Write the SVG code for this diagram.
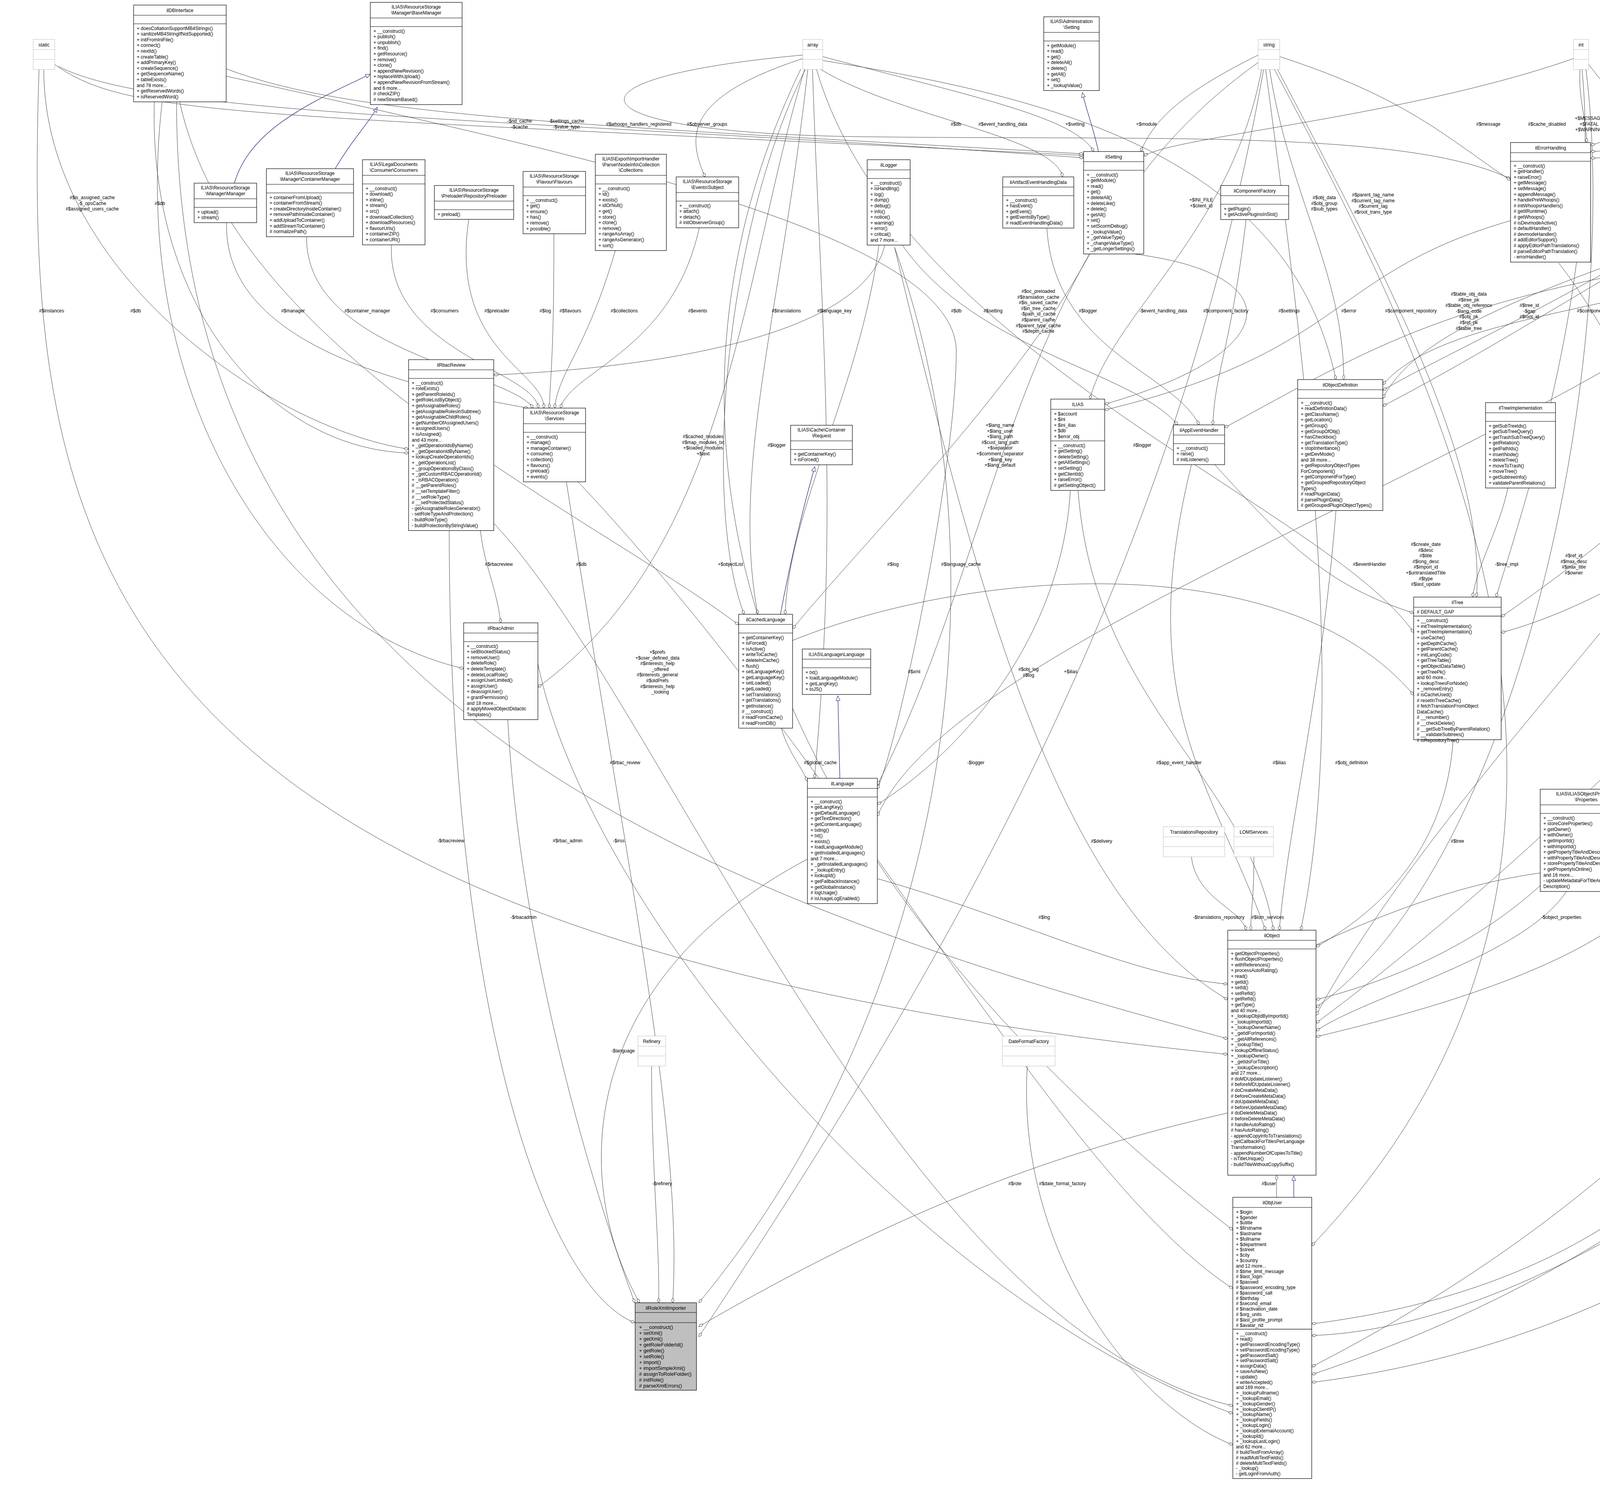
<svg xmlns="http://www.w3.org/2000/svg" width="5718" height="3836" viewBox="0 0 5718 3836">
<style>
text{font-family:"Liberation Sans",Arial,sans-serif;font-size:12px;fill:#000}
.b{fill:#fff;stroke:#000;stroke-width:1.2}
.g{fill:#fff;stroke:#bfbfbf;stroke-width:1}
.gs{stroke:#bfbfbf;stroke-width:1}
.s{stroke:#000;stroke-width:1.2}
.t{text-anchor:middle}
.l{text-anchor:middle}
.e{fill:none;stroke:#404040;stroke-width:1;marker-end:url(#dia)}
.i{fill:none;stroke:#191970;stroke-width:1.2;marker-end:url(#tri)}
.imp{fill:#bfbfbf;stroke:#000;stroke-width:1.2}
.imp2 text{font-size:13px}
</style>
<defs>
<marker id="dia" markerUnits="userSpaceOnUse" markerWidth="14" markerHeight="10" refX="13" refY="5" orient="auto"><path d="M1,5 L7,1.5 L13,5 L7,8.5 Z" fill="#fff" stroke="#404040"/></marker>
<marker id="tri" markerUnits="userSpaceOnUse" markerWidth="14" markerHeight="12" refX="13" refY="6" orient="auto"><path d="M1,1 L13,6 L1,11 Z" fill="#fff" stroke="#191970"/></marker>
</defs>
<rect width="5718" height="3836" fill="#fff"/>
<g id="connectors">
<path class="i" d="M600,469 C640,330 800,260 948,190"/>
<path class="i" d="M858,432 C900,360 940,320 966,275"/>
<path class="i" d="M2812,388 C2800,330 2780,280 2771,237"/>
<path class="i" d="M1998,1573 C2030,1400 2070,1250 2086,1195"/>
<path class="i" d="M2150,1993 C2148,1900 2146,1820 2145,1782"/>
<path class="i" d="M3312,3066 L3312,3011"/>
<path class="e" d="M112,177 C112,700 700,1100 1046,1150"/>
<path class="e" d="M100,177 C60,1400 200,2400 3143,2700"/>
<path class="e" d="M140,165 C330,300 600,290 2774,398"/>
<path class="e" d="M150,170 C400,300 1300,300 2774,404"/>
<path class="e" d="M395,261 C380,800 700,1150 1046,1160"/>
<path class="e" d="M415,261 C330,1000 700,1600 1187,1712"/>
<path class="e" d="M579,176 C900,300 1500,320 2774,394"/>
<path class="e" d="M452,261 C450,1800 1800,2300 3143,2660"/>
<path class="e" d="M580,570 C570,900 1100,1000 1352,1045"/>
<path class="e" d="M785,606 C780,900 1300,950 1365,1045"/>
<path class="e" d="M1002,627 C990,900 1370,950 1378,1045"/>
<path class="e" d="M1200,562 C1150,900 1395,950 1392,1045"/>
<path class="e" d="M1418,599 C1418,900 1410,950 1406,1045"/>
<path class="e" d="M1575,642 C1500,900 1430,950 1420,1045"/>
<path class="e" d="M1790,584 C1720,900 1460,950 1435,1045"/>
<path class="e" d="M2265,628 C2200,900 1500,950 1264,960"/>
<path class="e" d="M2055,141 C1400,200 1450,340 2200,350 S3600,330 3867,458"/>
<path class="e" d="M2055,150 C1750,250 1760,350 1805,453"/>
<path class="e" d="M2068,177 C2000,800 1870,1200 1940,1573"/>
<path class="e" d="M2062,177 C1850,600 1800,1300 1905,1573"/>
<path class="e" d="M2080,177 C2100,800 2150,1300 2085,1993"/>
<path class="e" d="M2100,177 C2300,300 2700,350 2720,453"/>
<path class="e" d="M2106,145 C2500,250 2750,300 2800,388"/>
<path class="e" d="M2106,155 C2700,250 3300,400 3420,972"/>
<path class="e" d="M2090,177 C2300,900 3400,1300 3619,1620"/>
<path class="e" d="M2060,177 C1900,700 1870,1400 1377,1760"/>
<path class="e" d="M2050,177 C1700,900 1683,2000 3156,3150"/>
<path class="e" d="M3221,141 C3000,250 2950,320 2920,388"/>
<path class="e" d="M3230,177 C3150,600 2850,800 2790,1022"/>
<path class="e" d="M3250,177 C3300,500 3440,700 3440,972"/>
<path class="e" d="M3276,145 C3600,250 3700,350 3867,462"/>
<path class="e" d="M3270,177 C3600,800 3800,1200 3780,1529"/>
<path class="e" d="M3240,177 C3350,1000 3450,1800 3330,2382"/>
<path class="e" d="M3262,177 C3700,1000 4300,2200 3358,3190"/>
<path class="e" d="M3221,160 C2600,600 2560,1400 2246,2010"/>
<path class="e" d="M3235,177 C3000,1500 2400,2500 1789,3423"/>
<path class="e" d="M4045,177 C4040,250 4060,300 4062,365"/>
<path class="e" d="M4028,150 C3600,300 3000,350 2928,400"/>
<path class="e" d="M4050,177 C4100,700 3900,1300 3830,1529"/>
<path class="e" d="M4060,177 C4150,900 3900,2200 3369,2580"/>
<path class="e" d="M4067,165 C4400,600 5200,1300 5100,2000 S4000,3400 3358,3420"/>
<path class="e" d="M4370,177 C4250,300 4150,350 4072,372"/>
<path class="e" d="M4823,155 C4500,300 4300,380 4072,388"/>
<path class="e" d="M4835,177 C4800,900 4100,1400 3843,1580"/>
<path class="e" d="M4845,177 C4900,900 2500,1500 2246,2090"/>
<path class="e" d="M4858,177 C4950,900 3800,1800 3369,2600"/>
<path class="e" d="M4871,170 C5300,800 5300,2500 3358,3500"/>
<path class="e" d="M4823,200 C4400,600 3700,900 3540,1000"/>
<path class="e" d="M5121,160 C4700,300 4300,400 4072,405"/>
<path class="e" d="M5125,177 C5000,350 4900,550 4774,680"/>
<path class="e" d="M5176,145 C5500,300 5600,500 5598,702"/>
<path class="e" d="M5135,177 C4700,600 3700,700 3540,1020"/>
<path class="e" d="M5140,177 C4400,500 4000,800 3540,1040"/>
<path class="e" d="M5150,177 C5100,900 4300,1500 3843,1620"/>
<path class="e" d="M5160,177 C5250,900 4200,2000 3369,2620"/>
<path class="e" d="M5170,177 C5500,900 5500,2800 3358,3520"/>
<path class="e" d="M5600,891 C5600,2500 4500,3400 3358,3540"/>
<path class="e" d="M2680,584 C2700,900 3000,950 3070,1088"/>
<path class="e" d="M3190,562 C3150,900 3110,950 3105,1088"/>
<path class="e" d="M2900,650 C3300,700 3300,900 2828,1035"/>
<path class="e" d="M3867,565 C3400,700 3450,900 2828,1050"/>
<path class="e" d="M4545,643 C4200,800 3700,800 3540,985"/>
<path class="e" d="M4540,640 C3700,750 3500,900 3135,1095"/>
<path class="e" d="M2310,628 C2500,900 2900,950 3015,1088"/>
<path class="e" d="M2250,628 C2200,1000 2020,1300 2010,1573"/>
<path class="e" d="M2790,650 C2600,1000 2200,1400 2029,1610"/>
<path class="e" d="M579,195 C1500,400 2448,600 2448,900 S2300,1900 2246,2020"/>
<path class="e" d="M460,261 C600,900 1488,1300 1891,1600"/>
<path class="e" d="M2029,1640 C2500,1450 3300,1400 3619,1780"/>
<path class="e" d="M1450,1234 C1600,2200 1750,2900 1722,3336"/>
<path class="e" d="M1150,1359 C1150,2600 1400,3300 1625,3387"/>
<path class="e" d="M1230,1359 C1240,1450 1270,1500 1282,1595"/>
<path class="e" d="M1264,1340 C1700,1800 2300,3400 3156,3600"/>
<path class="e" d="M1300,1843 C1330,2400 1500,3000 1625,3336"/>
<path class="e" d="M1377,1700 C1500,2300 2300,3300 3156,3620"/>
<path class="e" d="M2000,1865 C2020,1930 2050,1960 2067,2000"/>
<path class="e" d="M2067,2200 C1500,2500 1450,3000 1637,3336"/>
<path class="e" d="M2246,2250 C2600,2350 2900,2500 3143,2520"/>
<path class="e" d="M1668,2729 C1668,3000 1690,3200 1686,3336"/>
<path class="e" d="M2290,633 C2600,1500 2400,2600 1789,3336"/>
<path class="e" d="M2290,633 C2500,1500 2700,2300 3143,2560"/>
<path class="e" d="M2630,2729 C2600,3200 2900,3600 3156,3700"/>
<path class="e" d="M3143,2850 C2700,2950 2300,3100 1789,3397"/>
<path class="e" d="M2760,1257 C2800,1800 3200,2000 3260,2382"/>
<path class="e" d="M2740,1257 C2720,1600 2500,1900 2246,2060"/>
<path class="e" d="M3050,1190 C2900,1800 3100,2000 3240,2382"/>
<path class="e" d="M3110,1190 C3300,1400 3400,1500 3619,1570"/>
<path class="e" d="M3420,1308 C3380,1800 3300,2100 3275,2382"/>
<path class="e" d="M3720,1894 C3700,2200 3500,2350 3369,2425"/>
<path class="e" d="M3860,1250 C3840,1350 3780,1450 3770,1529"/>
<path class="e" d="M3050,2193 C3060,2300 3180,2330 3190,2382"/>
<path class="e" d="M3210,2193 C3210,2300 3202,2330 3202,2382"/>
<path class="e" d="M4010,2283 C3900,2450 3500,2550 3369,2640"/>
<path class="e" d="M4270,2210 C4200,2450 3600,2600 3369,2655"/>
<path class="e" d="M3268,3066 L3268,3010"/>
<path class="e" d="M1480,1234 C2200,2000 2700,3000 3156,3300"/>
<path class="e" d="M3990,673 C4471,1300 4400,2300 3369,2560"/>
<path class="e" d="M3369,2420 C4900,1700 4900,3200 3358,3390"/>
</g>
<g id="labels">
<text class="l" x="236" y="510">#$is_assigned_cache<tspan x="236" dy="14.6">-$_opsCache</tspan><tspan x="236" dy="14.6">#$assigned_users_cache</tspan></text>
<text class="l" x="409" y="525">#$db</text>
<text class="l" x="132" y="800">#$instances</text>
<text class="l" x="347" y="800">#$db</text>
<text class="l" x="750" y="800">#$manager</text>
<text class="l" x="940" y="800">#$container_manager</text>
<text class="l" x="1138" y="800">#$consumers</text>
<text class="l" x="1272" y="800">#$preloader</text>
<text class="l" x="1396" y="800">#$log</text>
<text class="l" x="1460" y="800">#$flavours</text>
<text class="l" x="1598" y="800">#$collections</text>
<text class="l" x="1786" y="800">#$events</text>
<text class="l" x="2013" y="800">#$translations</text>
<text class="l" x="2136" y="800">#$language_key</text>
<text class="l" x="2448" y="800">#$db</text>
<text class="l" x="2542" y="800">#$setting</text>
<text class="l" x="2658" y="750">#$oc_preloaded<tspan x="2658" dy="14.6">#$translation_cache</tspan><tspan x="2658" dy="14.6">#$is_saved_cache</tspan><tspan x="2658" dy="14.6">#$in_tree_cache</tspan><tspan x="2658" dy="14.6">-$path_id_cache</tspan><tspan x="2658" dy="14.6">#$parent_cache</tspan><tspan x="2658" dy="14.6">#$parent_type_cache</tspan><tspan x="2658" dy="14.6">#$depth_cache</tspan></text>
<text class="l" x="2785" y="800">#$logger</text>
<text class="l" x="1330" y="314">-$rid_cache<tspan x="1330" dy="14.6">-$cache</tspan></text>
<text class="l" x="1450" y="314">-$settings_cache<tspan x="1450" dy="14.6">-$value_type</tspan></text>
<text class="l" x="1635" y="322">#$whoops_handlers_registered</text>
<text class="l" x="1810" y="322">#$observer_groups</text>
<text class="l" x="2447" y="322">#$db</text>
<text class="l" x="2567" y="322">#$event_handling_data</text>
<text class="l" x="2752" y="322">+$setting</text>
<text class="l" x="2935" y="322">+$module</text>
<text class="l" x="3810" y="322">#$message</text>
<text class="l" x="3960" y="322">#$cache_disabled</text>
<text class="l" x="4068" y="307">+$MESSAGE<tspan x="4068" dy="14.6">+$FATAL</tspan><tspan x="4068" dy="14.6">+$WARNING</tspan></text>
<text class="l" x="4200" y="322">#$whoops</text>
<text class="l" x="4440" y="322">#$DEBUG_ENV</text>
<text class="l" x="4840" y="314">-SENSTIVE_PARAMETER<tspan x="4840" dy="14.6">_NAMES</tspan></text>
<text class="l" x="5122" y="322">+PLUGIN_BASE_PATH</text>
<text class="l" x="5543" y="322">+TABLE_NAME</text>
<text class="l" x="3075" y="516">+$INI_FILE<tspan x="3075" dy="14.6">+$client_id</tspan></text>
<text class="l" x="3390" y="510">#$obj_data<tspan x="3390" dy="14.6">#$obj_group</tspan><tspan x="3390" dy="14.6">#$sub_types</tspan></text>
<text class="l" x="3515" y="503">#$parent_tag_name<tspan x="3515" dy="14.6">#$current_tag_name</tspan><tspan x="3515" dy="14.6">#$current_tag</tspan><tspan x="3515" dy="14.6">#$root_trans_type</tspan></text>
<text class="l" x="4205" y="488">+FILTER_NOT_INTERNAL<tspan x="4205" dy="14.6">+FILTER_ALL_GLOBAL</tspan><tspan x="4205" dy="14.6">+FILTER_ALL</tspan><tspan x="4205" dy="14.6">+FILTER_INTERNAL</tspan><tspan x="4205" dy="14.6">+FILTER_TEMPLATES</tspan><tspan x="4205" dy="14.6">+FILTER_ALL_LOCAL</tspan></text>
<text class="l" x="4440" y="510">+MODE_REPOSITORY<tspan x="4440" dy="14.6">+MODE_ADMINISTRATION</tspan><tspan x="4440" dy="14.6">+MODE_WORKSPACE</tspan></text>
<text class="l" x="2978" y="800">-$event_handling_data</text>
<text class="l" x="3138" y="800">#$component_factory</text>
<text class="l" x="3300" y="800">#$settings</text>
<text class="l" x="3453" y="800">#$error</text>
<text class="l" x="3612" y="800">#$component_repository</text>
<text class="l" x="3760" y="757">#$table_obj_data<tspan x="3760" dy="14.6">#$tree_pk</tspan><tspan x="3760" dy="14.6">#$table_obj_reference</tspan><tspan x="3760" dy="14.6">-$lang_code</tspan><tspan x="3760" dy="14.6">#$obj_pk</tspan><tspan x="3760" dy="14.6">#$ref_pk</tspan><tspan x="3760" dy="14.6">#$table_tree</tspan></text>
<text class="l" x="3915" y="786">#$tree_id<tspan x="3915" dy="14.6">-$gap</tspan><tspan x="3915" dy="14.6">#$root_id</tspan></text>
<text class="l" x="4103" y="800">#$component_repository</text>
<text class="l" x="4397" y="800">#$loaded</text>
<text class="l" x="4705" y="800">#$use_cache</text>
<text class="l" x="5067" y="721">+TREE_TYPE_NESTED_SET<tspan x="5067" dy="14.6">+RELATION_PARENT</tspan><tspan x="5067" dy="14.6">+RELATION_CHILD</tspan><tspan x="5067" dy="14.6">+TREE_TYPE_MATERIALIZED</tspan><tspan x="5067" dy="14.6">_PATH</tspan><tspan x="5067" dy="14.6">#DEFAULT_LANGUAGE</tspan><tspan x="5067" dy="14.6">+RELATION_SIBLING</tspan><tspan x="5067" dy="14.6">+POS_FIRST_NODE</tspan><tspan x="5067" dy="14.6">+RELATION_EQUALS</tspan><tspan x="5067" dy="14.6">+POS_LAST_NODE</tspan><tspan x="5067" dy="14.6">+RELATION_NONE</tspan><tspan x="5067" dy="14.6">...</tspan></text>
<text class="l" x="1800" y="1122">#$cached_modules<tspan x="1800" dy="14.6">#$map_modules_txt</tspan><tspan x="1800" dy="14.6">+$loaded_modules</tspan><tspan x="1800" dy="14.6">+$text</tspan></text>
<text class="l" x="1988" y="1144">#$logger</text>
<text class="l" x="1277" y="1449">#$rbacreview</text>
<text class="l" x="1488" y="1449">#$db</text>
<text class="l" x="1870" y="1449">+$objectList</text>
<text class="l" x="2286" y="1449">#$log</text>
<text class="l" x="2460" y="1449">#$language_cache</text>
<text class="l" x="1683" y="1674">+$prefs<tspan x="1683" dy="14.6">+$user_defined_data</tspan><tspan x="1683" dy="14.6">#$interests_help</tspan><tspan x="1690" dy="14.6">_offered</tspan><tspan x="1683" dy="14.6">#$interests_general</tspan><tspan x="1683" dy="14.6">#$oldPrefs</tspan><tspan x="1683" dy="14.6">#$interests_help</tspan><tspan x="1690" dy="14.6">_looking</tspan></text>
<text class="l" x="2340" y="1724">#$xml</text>
<text class="l" x="1600" y="1957">#$rbac_review</text>
<text class="l" x="2100" y="1957">#$global_cache</text>
<text class="l" x="1154" y="2157">-$rbacreview</text>
<text class="l" x="1453" y="2157">#$rbac_admin</text>
<text class="l" x="1584" y="2157">-$irss</text>
<text class="l" x="1340" y="2353">-$rbacadmin</text>
<text class="l" x="2560" y="1093">+$lang_name<tspan x="2560" dy="14.6">+$lang_user</tspan><tspan x="2560" dy="14.6">+$lang_path</tspan><tspan x="2560" dy="14.6">#$cust_lang_path</tspan><tspan x="2560" dy="14.6">+$separator</tspan><tspan x="2560" dy="14.6">+$comment_separator</tspan><tspan x="2560" dy="14.6">+$lang_key</tspan><tspan x="2560" dy="14.6">+$lang_default</tspan></text>
<text class="l" x="2924" y="1144">#$logger</text>
<text class="l" x="3506" y="1449">#$eventHandler</text>
<text class="l" x="3650" y="1398">#$create_date<tspan x="3650" dy="14.6">#$desc</tspan><tspan x="3650" dy="14.6">#$title</tspan><tspan x="3650" dy="14.6">#$long_desc</tspan><tspan x="3650" dy="14.6">#$import_id</tspan><tspan x="3650" dy="14.6">+$untranslatedTitle</tspan><tspan x="3650" dy="14.6">#$type</tspan><tspan x="3650" dy="14.6">#$last_update</tspan></text>
<text class="l" x="2633" y="1718">#$obj_log<tspan x="2633" dy="14.6">#$log</tspan></text>
<text class="l" x="2741" y="1724">+$ilias</text>
<text class="l" x="2498" y="1957">-$logger</text>
<text class="l" x="3018" y="1957">#$app_event_handler</text>
<text class="l" x="3275" y="1957">#$ilias</text>
<text class="l" x="3460" y="1957">#$obj_definition</text>
<text class="l" x="2820" y="2158">#$delivery</text>
<text class="l" x="3731" y="2158">#$tree</text>
<text class="l" x="2673" y="2353">#$lng</text>
<text class="l" x="3120" y="2353">-$translations_repository</text>
<text class="l" x="3245" y="2353">#$lom_services</text>
<text class="l" x="3857" y="1449">-$tree_impl</text>
<text class="l" x="4029" y="1427">#$ref_id<tspan x="4029" dy="14.6">#$max_desc</tspan><tspan x="4029" dy="14.6">#$max_title</tspan><tspan x="4029" dy="14.6">#$owner</tspan></text>
<text class="l" x="4785" y="1144">#$usage_log_enabled</text>
<text class="l" x="4707" y="1427">#$register<tspan x="4707" dy="14.6">#$call_by_reference</tspan><tspan x="4707" dy="14.6">-$process_auto_rating</tspan><tspan x="4707" dy="14.6">#$add_dots</tspan></text>
<text class="l" x="4988" y="1427">+TABLE_OBJECT_DATA<tspan x="4988" dy="14.6">+LONG_DESC_LENGTH</tspan><tspan x="4988" dy="14.6">+TITLE_LENGTH</tspan><tspan x="4988" dy="14.6">+DESC_LENGTH</tspan></text>
<text class="l" x="4360" y="1652">#$ext_account<tspan x="4360" dy="14.6">+$email</tspan><tspan x="4360" dy="14.6">+$phone_office</tspan><tspan x="4360" dy="14.6">+$institution</tspan><tspan x="4360" dy="14.6">#$first_login</tspan><tspan x="4360" dy="14.6">+$longitude</tspan><tspan x="4360" dy="14.6">+$hobby</tspan><tspan x="4360" dy="14.6">+$zipcode</tspan><tspan x="4360" dy="14.6">#$passwd_type</tspan><tspan x="4360" dy="14.6">+$referral_comment</tspan><tspan x="4360" dy="14.6">...</tspan></text>
<text class="l" x="4471" y="1724">#$error</text>
<text class="l" x="4857" y="1724">#$role_folder</text>
<text class="l" x="5104" y="1688">#$time_limit_owner<tspan x="5104" dy="14.6">+$active</tspan><tspan x="5104" dy="14.6">#$time_limit_from</tspan><tspan x="5104" dy="14.6">#$time_limit_until</tspan><tspan x="5104" dy="14.6">+$login_attempts</tspan><tspan x="5104" dy="14.6">+$last_password_change_ts</tspan></text>
<text class="l" x="3997" y="2353">-$object_properties</text>
<text class="l" x="4218" y="2353">-$properties_aggregator</text>
<text class="l" x="5160" y="2460">#$profile_incomplete<tspan x="5160" dy="14.6">#$password_policy_reset</tspan><tspan x="5160" dy="14.6">#$time_limit_unlimited</tspan><tspan x="5160" dy="14.6">#$is_self_registered</tspan></text>
<text class="l" x="5325" y="2280">+$PASSWD_CRYPTED<tspan x="5325" dy="14.6">+$NO_AVATAR_RID</tspan><tspan x="5325" dy="14.6">+$PASSWD_PLAIN</tspan></text>
<text class="l" x="5580" y="2700">-$cron_delete_user<tspan x="5580" dy="14.6">_reminder_mail</tspan></text>
<text class="l" x="3248" y="3035">#$user</text>
<text class="l" x="1595" y="2695">-$language</text>
<text class="l" x="1695" y="3035">-$refinery</text>
<text class="l" x="2598" y="3035">#$role</text>
<text class="l" x="2720" y="3035">#$date_format_factory</text>
</g>
<g id="static" transform="translate(85,101)"><rect class="g" width="55" height="77"/><line class="gs" x1="0" y1="26" x2="55" y2="26"/><line class="gs" x1="0" y1="51" x2="55" y2="51"/><text class="t" x="27.5" y="17.5">static</text></g>
<g id="array" transform="translate(2055,101)"><rect class="g" width="51" height="77"/><line class="gs" x1="0" y1="26" x2="51" y2="26"/><line class="gs" x1="0" y1="51" x2="51" y2="51"/><text class="t" x="25.5" y="17.5">array</text></g>
<g id="string" transform="translate(3221,101)"><rect class="g" width="55" height="77"/><line class="gs" x1="0" y1="26" x2="55" y2="26"/><line class="gs" x1="0" y1="51" x2="55" y2="51"/><text class="t" x="27.5" y="17.5">string</text></g>
<g id="int" transform="translate(4028,101)"><rect class="g" width="39" height="77"/><line class="gs" x1="0" y1="26" x2="39" y2="26"/><line class="gs" x1="0" y1="51" x2="39" y2="51"/><text class="t" x="19.5" y="17.5">int</text></g>
<g id="RunInterface" transform="translate(4342,101)"><rect class="g" width="99" height="77"/><line class="gs" x1="0" y1="26" x2="99" y2="26"/><line class="gs" x1="0" y1="51" x2="99" y2="51"/><text class="t" x="49.5" y="17.5">RunInterface</text></g>
<g id="bool" transform="translate(4823,101)"><rect class="g" width="48" height="77"/><line class="gs" x1="0" y1="26" x2="48" y2="26"/><line class="gs" x1="0" y1="51" x2="48" y2="51"/><text class="t" x="24" y="17.5">bool</text></g>
<g id="const" transform="translate(5121,101)"><rect class="g" width="55" height="77"/><line class="gs" x1="0" y1="26" x2="55" y2="26"/><line class="gs" x1="0" y1="51" x2="55" y2="51"/><text class="t" x="27.5" y="17.5">const</text></g>
<g id="TranslationsRepository" transform="translate(2978,2117)"><rect class="g" width="157" height="77"/><line class="gs" x1="0" y1="26" x2="157" y2="26"/><line class="gs" x1="0" y1="51" x2="157" y2="51"/><text class="t" x="78.5" y="17.5">TranslationsRepository</text></g>
<g id="LOMServices" transform="translate(3159,2117)"><rect class="g" width="101" height="77"/><line class="gs" x1="0" y1="26" x2="101" y2="26"/><line class="gs" x1="0" y1="51" x2="101" y2="51"/><text class="t" x="50.5" y="17.5">LOMServices</text></g>
<g id="Refinery" transform="translate(1633,2653)"><rect class="g" width="71" height="77"/><line class="gs" x1="0" y1="26" x2="71" y2="26"/><line class="gs" x1="0" y1="51" x2="71" y2="51"/><text class="t" x="35.5" y="17.5">Refinery</text></g>
<g id="DateFormatFactory" transform="translate(2566,2653)"><rect class="g" width="135" height="77"/><line class="gs" x1="0" y1="26" x2="135" y2="26"/><line class="gs" x1="0" y1="51" x2="135" y2="51"/><text class="t" x="67.5" y="17.5">DateFormatFactory</text></g>
<g id="ilDBInterface" transform="translate(342,13)"><rect class="b" width="237" height="247.8"/><line class="s" x1="0" y1="26" x2="237" y2="26"/><line class="s" x1="0" y1="48" x2="237" y2="48"/><text class="t" x="118.5" y="17.5">ilDBInterface</text><text x="8" y="49"><tspan x="8" dy="14.6">+ doesCollationSupportMB4Strings()</tspan><tspan x="8" dy="14.6">+ sanitizeMB4StringIfNotSupported()</tspan><tspan x="8" dy="14.6">+ initFromIniFile()</tspan><tspan x="8" dy="14.6">+ connect()</tspan><tspan x="8" dy="14.6">+ nextId()</tspan><tspan x="8" dy="14.6">+ createTable()</tspan><tspan x="8" dy="14.6">+ addPrimaryKey()</tspan><tspan x="8" dy="14.6">+ createSequence()</tspan><tspan x="8" dy="14.6">+ getSequenceName()</tspan><tspan x="8" dy="14.6">+ tableExists()</tspan><tspan x="8" dy="14.6">and 78 more...</tspan><tspan x="8" dy="14.6">+ getReservedWords()</tspan><tspan x="8" dy="14.6">+ isReservedWord()</tspan></text></g>
<g id="BaseManager" transform="translate(948,6)"><rect class="b" width="235" height="261.8"/><line class="s" x1="0" y1="40" x2="235" y2="40"/><line class="s" x1="0" y1="62" x2="235" y2="62"/><text class="t" x="117.5" y="16">ILIAS\ResourceStorage<tspan x="117.5" dy="14.6">\Manager\BaseManager</tspan></text><text x="8" y="63"><tspan x="8" dy="14.6">+ __construct()</tspan><tspan x="8" dy="14.6">+ publish()</tspan><tspan x="8" dy="14.6">+ unpublish()</tspan><tspan x="8" dy="14.6">+ find()</tspan><tspan x="8" dy="14.6">+ getResource()</tspan><tspan x="8" dy="14.6">+ remove()</tspan><tspan x="8" dy="14.6">+ clone()</tspan><tspan x="8" dy="14.6">+ appendNewRevision()</tspan><tspan x="8" dy="14.6">+ replaceWithUpload()</tspan><tspan x="8" dy="14.6">+ appendNewRevisionFromStream()</tspan><tspan x="8" dy="14.6">and 6 more...</tspan><tspan x="8" dy="14.6"># checkZIP()</tspan><tspan x="8" dy="14.6"># newStreamBased()</tspan></text></g>
<g id="Manager" transform="translate(497,469)"><rect class="b" width="160" height="101.2"/><line class="s" x1="0" y1="40" x2="160" y2="40"/><line class="s" x1="0" y1="62" x2="160" y2="62"/><text class="t" x="80" y="16">ILIAS\ResourceStorage<tspan x="80" dy="14.6">\Manager\Manager</tspan></text><text x="8" y="63"><tspan x="8" dy="14.6">+ upload()</tspan><tspan x="8" dy="14.6">+ stream()</tspan></text></g>
<g id="ContainerManager" transform="translate(682,432)"><rect class="b" width="223" height="174.2"/><line class="s" x1="0" y1="40" x2="223" y2="40"/><line class="s" x1="0" y1="62" x2="223" y2="62"/><text class="t" x="111.5" y="16">ILIAS\ResourceStorage<tspan x="111.5" dy="14.6">\Manager\ContainerManager</tspan></text><text x="8" y="63"><tspan x="8" dy="14.6">+ containerFromUpload()</tspan><tspan x="8" dy="14.6">+ containerFromStream()</tspan><tspan x="8" dy="14.6">+ createDirectoryInsideContainer()</tspan><tspan x="8" dy="14.6">+ removePathInsideContainer()</tspan><tspan x="8" dy="14.6">+ addUploadToContainer()</tspan><tspan x="8" dy="14.6">+ addStreamToContainer()</tspan><tspan x="8" dy="14.6"># normalizePath()</tspan></text></g>
<g id="Consumers" transform="translate(928,409)"><rect class="b" width="160" height="218"/><line class="s" x1="0" y1="40" x2="160" y2="40"/><line class="s" x1="0" y1="62" x2="160" y2="62"/><text class="t" x="80" y="16">ILIAS\LegalDocuments<tspan x="80" dy="14.6">\Consumer\Consumers</tspan></text><text x="8" y="63"><tspan x="8" dy="14.6">+ __construct()</tspan><tspan x="8" dy="14.6">+ download()</tspan><tspan x="8" dy="14.6">+ inline()</tspan><tspan x="8" dy="14.6">+ stream()</tspan><tspan x="8" dy="14.6">+ src()</tspan><tspan x="8" dy="14.6">+ downloadCollection()</tspan><tspan x="8" dy="14.6">+ downloadResources()</tspan><tspan x="8" dy="14.6">+ flavourUrls()</tspan><tspan x="8" dy="14.6">+ containerZIP()</tspan><tspan x="8" dy="14.6">+ containerURI()</tspan></text></g>
<g id="RepositoryPreloader" transform="translate(1112,475)"><rect class="b" width="203" height="86.6"/><line class="s" x1="0" y1="40" x2="203" y2="40"/><line class="s" x1="0" y1="62" x2="203" y2="62"/><text class="t" x="101.5" y="16">ILIAS\ResourceStorage<tspan x="101.5" dy="14.6">\Preloader\RepositoryPreloader</tspan></text><text x="8" y="63"><tspan x="8" dy="14.6">+ preload()</tspan></text></g>
<g id="Flavours" transform="translate(1339,439)"><rect class="b" width="160" height="159.6"/><line class="s" x1="0" y1="40" x2="160" y2="40"/><line class="s" x1="0" y1="62" x2="160" y2="62"/><text class="t" x="80" y="16">ILIAS\ResourceStorage<tspan x="80" dy="14.6">\Flavour\Flavours</tspan></text><text x="8" y="63"><tspan x="8" dy="14.6">+ __construct()</tspan><tspan x="8" dy="14.6">+ get()</tspan><tspan x="8" dy="14.6">+ ensure()</tspan><tspan x="8" dy="14.6">+ has()</tspan><tspan x="8" dy="14.6">+ remove()</tspan><tspan x="8" dy="14.6">+ possible()</tspan></text></g>
<g id="Collections" transform="translate(1524,395)"><rect class="b" width="182" height="246.6"/><line class="s" x1="0" y1="54" x2="182" y2="54"/><line class="s" x1="0" y1="76" x2="182" y2="76"/><text class="t" x="91" y="16">ILIAS\Export\ImportHandler<tspan x="91" dy="14.6">\Parser\NodeInfo\Collection</tspan><tspan x="91" dy="14.6">\Collections</tspan></text><text x="8" y="77"><tspan x="8" dy="14.6">+ __construct()</tspan><tspan x="8" dy="14.6">+ id()</tspan><tspan x="8" dy="14.6">+ exists()</tspan><tspan x="8" dy="14.6">+ idOrNull()</tspan><tspan x="8" dy="14.6">+ get()</tspan><tspan x="8" dy="14.6">+ store()</tspan><tspan x="8" dy="14.6">+ clone()</tspan><tspan x="8" dy="14.6">+ remove()</tspan><tspan x="8" dy="14.6">+ rangeAsArray()</tspan><tspan x="8" dy="14.6">+ rangeAsGenerator()</tspan><tspan x="8" dy="14.6">+ sort()</tspan></text></g>
<g id="EventsSubject" transform="translate(1731,453)"><rect class="b" width="160" height="130.4"/><line class="s" x1="0" y1="40" x2="160" y2="40"/><line class="s" x1="0" y1="62" x2="160" y2="62"/><text class="t" x="80" y="16">ILIAS\ResourceStorage<tspan x="80" dy="14.6">\Events\Subject</tspan></text><text x="8" y="63"><tspan x="8" dy="14.6">+ __construct()</tspan><tspan x="8" dy="14.6">+ attach()</tspan><tspan x="8" dy="14.6">+ detach()</tspan><tspan x="8" dy="14.6"># initObserverGroup()</tspan></text></g>
<g id="ilLogger" transform="translate(2220,409)"><rect class="b" width="110" height="218.6"/><line class="s" x1="0" y1="26" x2="110" y2="26"/><line class="s" x1="0" y1="48" x2="110" y2="48"/><text class="t" x="55" y="17.5">ilLogger</text><text x="8" y="49"><tspan x="8" dy="14.6">+ __construct()</tspan><tspan x="8" dy="14.6">+ isHandling()</tspan><tspan x="8" dy="14.6">+ log()</tspan><tspan x="8" dy="14.6">+ dump()</tspan><tspan x="8" dy="14.6">+ debug()</tspan><tspan x="8" dy="14.6">+ info()</tspan><tspan x="8" dy="14.6">+ notice()</tspan><tspan x="8" dy="14.6">+ warning()</tspan><tspan x="8" dy="14.6">+ error()</tspan><tspan x="8" dy="14.6">+ critical()</tspan><tspan x="8" dy="14.6">and 7 more...</tspan></text></g>
<g id="AdministrationSetting" transform="translate(2672,43)"><rect class="b" width="142" height="188.8"/><line class="s" x1="0" y1="40" x2="142" y2="40"/><line class="s" x1="0" y1="62" x2="142" y2="62"/><text class="t" x="71" y="16">ILIAS\Administration<tspan x="71" dy="14.6">\Setting</tspan></text><text x="8" y="63"><tspan x="8" dy="14.6">+ getModule()</tspan><tspan x="8" dy="14.6">+ read()</tspan><tspan x="8" dy="14.6">+ get()</tspan><tspan x="8" dy="14.6">+ deleteAll()</tspan><tspan x="8" dy="14.6">+ delete()</tspan><tspan x="8" dy="14.6">+ getAll()</tspan><tspan x="8" dy="14.6">+ set()</tspan><tspan x="8" dy="14.6">+ _lookupValue()</tspan></text></g>
<g id="ilArtifactEventHandlingData" transform="translate(2567,453)"><rect class="b" width="182" height="131"/><line class="s" x1="0" y1="26" x2="182" y2="26"/><line class="s" x1="0" y1="48" x2="182" y2="48"/><text class="t" x="91" y="17.5">ilArtifactEventHandlingData</text><text x="8" y="49"><tspan x="8" dy="14.6">+ __construct()</tspan><tspan x="8" dy="14.6">+ hasEvent()</tspan><tspan x="8" dy="14.6">+ getEvent()</tspan><tspan x="8" dy="14.6">+ getEventsByType()</tspan><tspan x="8" dy="14.6"># readEventHandlingData()</tspan></text></g>
<g id="ilSetting" transform="translate(2774,388)"><rect class="b" width="154" height="262.4"/><line class="s" x1="0" y1="26" x2="154" y2="26"/><line class="s" x1="0" y1="48" x2="154" y2="48"/><text class="t" x="77" y="17.5">ilSetting</text><text x="8" y="49"><tspan x="8" dy="14.6">+ __construct()</tspan><tspan x="8" dy="14.6">+ getModule()</tspan><tspan x="8" dy="14.6">+ read()</tspan><tspan x="8" dy="14.6">+ get()</tspan><tspan x="8" dy="14.6">+ deleteAll()</tspan><tspan x="8" dy="14.6">+ deleteLike()</tspan><tspan x="8" dy="14.6">+ delete()</tspan><tspan x="8" dy="14.6">+ getAll()</tspan><tspan x="8" dy="14.6">+ set()</tspan><tspan x="8" dy="14.6">+ setScormDebug()</tspan><tspan x="8" dy="14.6">+ _lookupValue()</tspan><tspan x="8" dy="14.6">+ _getValueType()</tspan><tspan x="8" dy="14.6">+ _changeValueType()</tspan><tspan x="8" dy="14.6">+ _getLongerSettings()</tspan></text></g>
<g id="ilComponentFactory" transform="translate(3125,475)"><rect class="b" width="174" height="87.2"/><line class="s" x1="0" y1="26" x2="174" y2="26"/><line class="s" x1="0" y1="48" x2="174" y2="48"/><text class="t" x="87" y="17.5">ilComponentFactory</text><text x="8" y="49"><tspan x="8" dy="14.6">+ getPlugin()</tspan><tspan x="8" dy="14.6">+ getActivePluginsInSlot()</tspan></text></g>
<g id="ilErrorHandling" transform="translate(3867,365)"><rect class="b" width="205" height="306.2"/><line class="s" x1="0" y1="26" x2="205" y2="26"/><line class="s" x1="0" y1="48" x2="205" y2="48"/><text class="t" x="102.5" y="17.5">ilErrorHandling</text><text x="8" y="49"><tspan x="8" dy="14.6">+ __construct()</tspan><tspan x="8" dy="14.6">+ getHandler()</tspan><tspan x="8" dy="14.6">+ raiseError()</tspan><tspan x="8" dy="14.6">+ getMessage()</tspan><tspan x="8" dy="14.6">+ setMessage()</tspan><tspan x="8" dy="14.6">+ appendMessage()</tspan><tspan x="8" dy="14.6">+ handlePreWhoops()</tspan><tspan x="8" dy="14.6"># initWhoopsHandlers()</tspan><tspan x="8" dy="14.6"># getIlRuntime()</tspan><tspan x="8" dy="14.6"># getWhoops()</tspan><tspan x="8" dy="14.6"># isDevmodeActive()</tspan><tspan x="8" dy="14.6"># defaultHandler()</tspan><tspan x="8" dy="14.6"># devmodeHandler()</tspan><tspan x="8" dy="14.6"># addEditorSupport()</tspan><tspan x="8" dy="14.6"># applyEditorPathTranslations()</tspan><tspan x="8" dy="14.6"># parseEditorPathTranslation()</tspan><tspan x="8" dy="14.6">- errorHandler()</tspan></text></g>
<g id="ilComponentRepository" transform="translate(4539,395)"><rect class="b" width="235" height="247.8"/><line class="s" x1="0" y1="26" x2="235" y2="26"/><line class="s" x1="0" y1="48" x2="235" y2="48"/><text class="t" x="117.5" y="17.5">ilComponentRepository</text><text x="8" y="49"><tspan x="8" dy="14.6">+ hasComponent()</tspan><tspan x="8" dy="14.6">+ hasComponentId()</tspan><tspan x="8" dy="14.6">+ getComponents()</tspan><tspan x="8" dy="14.6">+ getComponentById()</tspan><tspan x="8" dy="14.6">+ getComponentByTypeAndName()</tspan><tspan x="8" dy="14.6">+ hasPluginSlotId()</tspan><tspan x="8" dy="14.6">+ getPluginSlots()</tspan><tspan x="8" dy="14.6">+ getPluginSlotById()</tspan><tspan x="8" dy="14.6">+ hasPluginId()</tspan><tspan x="8" dy="14.6">+ getPlugins()</tspan><tspan x="8" dy="14.6">+ getPluginById()</tspan><tspan x="8" dy="14.6">+ getPluginByName()</tspan><tspan x="8" dy="14.6">+ hasActivatedPlugin()</tspan></text></g>
<g id="ilCronDeleteInactiveUserReminderMail" transform="translate(5491,702)"><rect class="b" width="216" height="188.8"/><line class="s" x1="0" y1="40" x2="216" y2="40"/><line class="s" x1="0" y1="62" x2="216" y2="62"/><text class="t" x="108" y="16">ilCronDeleteInactiveUser<tspan x="108" dy="14.6">ReminderMail</tspan></text><text x="8" y="63"><tspan x="8" dy="14.6">+ __construct()</tspan><tspan x="8" dy="14.6">+ removeEntriesFromTableIf</tspan><tspan x="8" dy="14.6">LastLoginIsNewer()</tspan><tspan x="8" dy="14.6">+ sendReminderMailIfNeeded()</tspan><tspan x="8" dy="14.6">+ flushDataTable()</tspan><tspan x="8" dy="14.6">+ removeSingleUserFromTable()</tspan><tspan x="8" dy="14.6">- persistMailSent()</tspan><tspan x="8" dy="14.6">- sendReminder()</tspan></text></g>
<g id="ilRbacReview" transform="translate(1046,921)"><rect class="b" width="218" height="437.6"/><line class="s" x1="0" y1="26" x2="218" y2="26"/><line class="s" x1="0" y1="48" x2="218" y2="48"/><text class="t" x="109" y="17.5">ilRbacReview</text><text x="8" y="49"><tspan x="8" dy="14.6">+ __construct()</tspan><tspan x="8" dy="14.6">+ roleExists()</tspan><tspan x="8" dy="14.6">+ getParentRoleIds()</tspan><tspan x="8" dy="14.6">+ getRoleListByObject()</tspan><tspan x="8" dy="14.6">+ getAssignableRoles()</tspan><tspan x="8" dy="14.6">+ getAssignableRolesInSubtree()</tspan><tspan x="8" dy="14.6">+ getAssignableChildRoles()</tspan><tspan x="8" dy="14.6">+ getNumberOfAssignedUsers()</tspan><tspan x="8" dy="14.6">+ assignedUsers()</tspan><tspan x="8" dy="14.6">+ isAssigned()</tspan><tspan x="8" dy="14.6">and 43 more...</tspan><tspan x="8" dy="14.6">+ _getOperationIdsByName()</tspan><tspan x="8" dy="14.6">+ _getOperationIdByName()</tspan><tspan x="8" dy="14.6">+ lookupCreateOperationIds()</tspan><tspan x="8" dy="14.6">+ _getOperationList()</tspan><tspan x="8" dy="14.6">+ _groupOperationsByClass()</tspan><tspan x="8" dy="14.6">+ _getCustomRBACOperationId()</tspan><tspan x="8" dy="14.6">+ _isRBACOperation()</tspan><tspan x="8" dy="14.6"># __getParentRoles()</tspan><tspan x="8" dy="14.6"># __setTemplateFilter()</tspan><tspan x="8" dy="14.6"># __setRoleType()</tspan><tspan x="8" dy="14.6"># __setProtectedStatus()</tspan><tspan x="8" dy="14.6">- getAssignableRolesGenerator()</tspan><tspan x="8" dy="14.6">- setRoleTypeAndProtection()</tspan><tspan x="8" dy="14.6">- buildRoleType()</tspan><tspan x="8" dy="14.6">- buildProtectionByStringValue()</tspan></text></g>
<g id="Services" transform="translate(1340,1045)"><rect class="b" width="159" height="188.8"/><line class="s" x1="0" y1="40" x2="159" y2="40"/><line class="s" x1="0" y1="62" x2="159" y2="62"/><text class="t" x="79.5" y="16">ILIAS\ResourceStorage<tspan x="79.5" dy="14.6">\Services</tspan></text><text x="8" y="63"><tspan x="8" dy="14.6">+ __construct()</tspan><tspan x="8" dy="14.6">+ manage()</tspan><tspan x="8" dy="14.6">+ manageContainer()</tspan><tspan x="8" dy="14.6">+ consume()</tspan><tspan x="8" dy="14.6">+ collection()</tspan><tspan x="8" dy="14.6">+ flavours()</tspan><tspan x="8" dy="14.6">+ preload()</tspan><tspan x="8" dy="14.6">+ events()</tspan></text></g>
<g id="CacheRequest" transform="translate(2024,1089)"><rect class="b" width="158" height="101.2"/><line class="s" x1="0" y1="40" x2="158" y2="40"/><line class="s" x1="0" y1="62" x2="158" y2="62"/><text class="t" x="79" y="16">ILIAS\Cache\Container<tspan x="79" dy="14.6">\Request</tspan></text><text x="8" y="63"><tspan x="8" dy="14.6">+ getContainerKey()</tspan><tspan x="8" dy="14.6">+ isForced()</tspan></text></g>
<g id="ilRbacAdmin" transform="translate(1187,1595)"><rect class="b" width="190" height="247.8"/><line class="s" x1="0" y1="26" x2="190" y2="26"/><line class="s" x1="0" y1="48" x2="190" y2="48"/><text class="t" x="95" y="17.5">ilRbacAdmin</text><text x="8" y="49"><tspan x="8" dy="14.6">+ __construct()</tspan><tspan x="8" dy="14.6">+ setBlockedStatus()</tspan><tspan x="8" dy="14.6">+ removeUser()</tspan><tspan x="8" dy="14.6">+ deleteRole()</tspan><tspan x="8" dy="14.6">+ deleteTemplate()</tspan><tspan x="8" dy="14.6">+ deleteLocalRole()</tspan><tspan x="8" dy="14.6">+ assignUserLimited()</tspan><tspan x="8" dy="14.6">+ assignUser()</tspan><tspan x="8" dy="14.6">+ deassignUser()</tspan><tspan x="8" dy="14.6">+ grantPermission()</tspan><tspan x="8" dy="14.6">and 18 more...</tspan><tspan x="8" dy="14.6"># applyMovedObjectDidactic</tspan><tspan x="8" dy="14.6">Templates()</tspan></text></g>
<g id="ilCachedLanguage" transform="translate(1891,1573)"><rect class="b" width="138" height="291.6"/><line class="s" x1="0" y1="26" x2="138" y2="26"/><line class="s" x1="0" y1="48" x2="138" y2="48"/><text class="t" x="69" y="17.5">ilCachedLanguage</text><text x="8" y="49"><tspan x="8" dy="14.6">+ getContainerKey()</tspan><tspan x="8" dy="14.6">+ isForced()</tspan><tspan x="8" dy="14.6">+ isActive()</tspan><tspan x="8" dy="14.6">+ writeToCache()</tspan><tspan x="8" dy="14.6">+ deleteInCache()</tspan><tspan x="8" dy="14.6">+ flush()</tspan><tspan x="8" dy="14.6">+ setLanguageKey()</tspan><tspan x="8" dy="14.6">+ getLanguageKey()</tspan><tspan x="8" dy="14.6">+ setLoaded()</tspan><tspan x="8" dy="14.6">+ getLoaded()</tspan><tspan x="8" dy="14.6">+ setTranslations()</tspan><tspan x="8" dy="14.6">+ getTranslations()</tspan><tspan x="8" dy="14.6">+ getInstance()</tspan><tspan x="8" dy="14.6"># __construct()</tspan><tspan x="8" dy="14.6"># readFromCache()</tspan><tspan x="8" dy="14.6"># readFromDB()</tspan></text></g>
<g id="LanguageLanguage" transform="translate(2054,1662)"><rect class="b" width="175" height="116.4"/><line class="s" x1="0" y1="26" x2="175" y2="26"/><line class="s" x1="0" y1="48" x2="175" y2="48"/><text class="t" x="87.5" y="17.5">ILIAS\Language\Language</text><text x="8" y="49"><tspan x="8" dy="14.6">+ txt()</tspan><tspan x="8" dy="14.6">+ loadLanguageModule()</tspan><tspan x="8" dy="14.6">+ getLangKey()</tspan><tspan x="8" dy="14.6">+ toJS()</tspan></text></g>
<g id="ilLanguage" transform="translate(2067,1993)"><rect class="b" width="179" height="320.8"/><line class="s" x1="0" y1="26" x2="179" y2="26"/><line class="s" x1="0" y1="48" x2="179" y2="48"/><text class="t" x="89.5" y="17.5">ilLanguage</text><text x="8" y="49"><tspan x="8" dy="14.6">+ __construct()</tspan><tspan x="8" dy="14.6">+ getLangKey()</tspan><tspan x="8" dy="14.6">+ getDefaultLanguage()</tspan><tspan x="8" dy="14.6">+ getTextDirection()</tspan><tspan x="8" dy="14.6">+ getContentLanguage()</tspan><tspan x="8" dy="14.6">+ txtlng()</tspan><tspan x="8" dy="14.6">+ txt()</tspan><tspan x="8" dy="14.6">+ exists()</tspan><tspan x="8" dy="14.6">+ loadLanguageModule()</tspan><tspan x="8" dy="14.6">+ getInstalledLanguages()</tspan><tspan x="8" dy="14.6">and 7 more...</tspan><tspan x="8" dy="14.6">+ _getInstalledLanguages()</tspan><tspan x="8" dy="14.6">+ _lookupEntry()</tspan><tspan x="8" dy="14.6">+ lookupId()</tspan><tspan x="8" dy="14.6">+ getFallbackInstance()</tspan><tspan x="8" dy="14.6">+ getGlobalInstance()</tspan><tspan x="8" dy="14.6"># logUsage()</tspan><tspan x="8" dy="14.6"># isUsageLogEnabled()</tspan></text></g>
<g id="ILIAS" transform="translate(2690,1022)"><rect class="b" width="138" height="233.8"/><line class="s" x1="0" y1="26" x2="138" y2="26"/><line class="s" x1="0" y1="107" x2="138" y2="107"/><text class="t" x="69" y="17.5">ILIAS</text><text x="8" y="27"><tspan x="8" dy="14.6">+ $account</tspan><tspan x="8" dy="14.6">+ $ini</tspan><tspan x="8" dy="14.6">+ $ini_ilias</tspan><tspan x="8" dy="14.6">+ $db</tspan><tspan x="8" dy="14.6">+ $error_obj</tspan></text><text x="8" y="108"><tspan x="8" dy="14.6">+ __construct()</tspan><tspan x="8" dy="14.6">+ getSetting()</tspan><tspan x="8" dy="14.6">+ deleteSetting()</tspan><tspan x="8" dy="14.6">+ getAllSettings()</tspan><tspan x="8" dy="14.6">+ setSetting()</tspan><tspan x="8" dy="14.6">+ getClientId()</tspan><tspan x="8" dy="14.6">+ raiseError()</tspan><tspan x="8" dy="14.6"># getSettingObject()</tspan></text></g>
<g id="ilAppEventHandler" transform="translate(3004,1088)"><rect class="b" width="131" height="101.8"/><line class="s" x1="0" y1="26" x2="131" y2="26"/><line class="s" x1="0" y1="48" x2="131" y2="48"/><text class="t" x="65.5" y="17.5">ilAppEventHandler</text><text x="8" y="49"><tspan x="8" dy="14.6">+ __construct()</tspan><tspan x="8" dy="14.6">+ raise()</tspan><tspan x="8" dy="14.6"># initListeners()</tspan></text></g>
<g id="ilObjectDefinition" transform="translate(3322,972)"><rect class="b" width="218" height="335.4"/><line class="s" x1="0" y1="26" x2="218" y2="26"/><line class="s" x1="0" y1="48" x2="218" y2="48"/><text class="t" x="109" y="17.5">ilObjectDefinition</text><text x="8" y="49"><tspan x="8" dy="14.6">+ __construct()</tspan><tspan x="8" dy="14.6">+ readDefinitionData()</tspan><tspan x="8" dy="14.6">+ getClassName()</tspan><tspan x="8" dy="14.6">+ getLocation()</tspan><tspan x="8" dy="14.6">+ getGroup()</tspan><tspan x="8" dy="14.6">+ getGroupOfObj()</tspan><tspan x="8" dy="14.6">+ hasCheckbox()</tspan><tspan x="8" dy="14.6">+ getTranslationType()</tspan><tspan x="8" dy="14.6">+ stopInheritance()</tspan><tspan x="8" dy="14.6">+ getDevMode()</tspan><tspan x="8" dy="14.6">and 38 more...</tspan><tspan x="8" dy="14.6">+ getRepositoryObjectTypes</tspan><tspan x="8" dy="14.6">ForComponent()</tspan><tspan x="8" dy="14.6">+ getComponentForType()</tspan><tspan x="8" dy="14.6">+ getGroupedRepositoryObject</tspan><tspan x="8" dy="14.6">Types()</tspan><tspan x="8" dy="14.6"># readPluginData()</tspan><tspan x="8" dy="14.6"># parsePluginData()</tspan><tspan x="8" dy="14.6"># getGroupedPluginObjectTypes()</tspan></text></g>
<g id="ilTree" transform="translate(3619,1529)"><rect class="b" width="224" height="365.2"/><line class="s" x1="0" y1="26" x2="224" y2="26"/><line class="s" x1="0" y1="48.6" x2="224" y2="48.6"/><text class="t" x="112" y="17.5">ilTree</text><text x="8" y="27"><tspan x="8" dy="14.6"># DEFAULT_GAP</tspan></text><text x="8" y="49.6"><tspan x="8" dy="14.6">+ __construct()</tspan><tspan x="8" dy="14.6">+ initTreeImplementation()</tspan><tspan x="8" dy="14.6">+ getTreeImplementation()</tspan><tspan x="8" dy="14.6">+ useCache()</tspan><tspan x="8" dy="14.6">+ getDepthCache()</tspan><tspan x="8" dy="14.6">+ getParentCache()</tspan><tspan x="8" dy="14.6">+ initLangCode()</tspan><tspan x="8" dy="14.6">+ getTreeTable()</tspan><tspan x="8" dy="14.6">+ getObjectDataTable()</tspan><tspan x="8" dy="14.6">+ getTreePk()</tspan><tspan x="8" dy="14.6">and 60 more...</tspan><tspan x="8" dy="14.6">+ lookupTreesForNode()</tspan><tspan x="8" dy="14.6">+ _removeEntry()</tspan><tspan x="8" dy="14.6"># isCacheUsed()</tspan><tspan x="8" dy="14.6"># resetInTreeCache()</tspan><tspan x="8" dy="14.6"># fetchTranslationFromObject</tspan><tspan x="8" dy="14.6">DataCache()</tspan><tspan x="8" dy="14.6"># __renumber()</tspan><tspan x="8" dy="14.6"># __checkDelete()</tspan><tspan x="8" dy="14.6"># __getSubTreeByParentRelation()</tspan><tspan x="8" dy="14.6"># __validateSubtrees()</tspan><tspan x="8" dy="14.6"># isRepositoryTree()</tspan></text></g>
<g id="ilTreeImplementation" transform="translate(3803,1031)"><rect class="b" width="179" height="218.6"/><line class="s" x1="0" y1="26" x2="179" y2="26"/><line class="s" x1="0" y1="48" x2="179" y2="48"/><text class="t" x="89.5" y="17.5">ilTreeImplementation</text><text x="8" y="49"><tspan x="8" dy="14.6">+ getSubTreeIds()</tspan><tspan x="8" dy="14.6">+ getSubTreeQuery()</tspan><tspan x="8" dy="14.6">+ getTrashSubTreeQuery()</tspan><tspan x="8" dy="14.6">+ getRelation()</tspan><tspan x="8" dy="14.6">+ getPathIds()</tspan><tspan x="8" dy="14.6">+ insertNode()</tspan><tspan x="8" dy="14.6">+ deleteTree()</tspan><tspan x="8" dy="14.6">+ moveToTrash()</tspan><tspan x="8" dy="14.6">+ moveTree()</tspan><tspan x="8" dy="14.6">+ getSubtreeInfo()</tspan><tspan x="8" dy="14.6">+ validateParentRelations()</tspan></text></g>
<g id="Properties" transform="translate(3943,2021)"><rect class="b" width="235" height="261.8"/><line class="s" x1="0" y1="40" x2="235" y2="40"/><line class="s" x1="0" y1="62" x2="235" y2="62"/><text class="t" x="117.5" y="16">ILIAS\ILIASObject\Properties<tspan x="117.5" dy="14.6">\Properties</tspan></text><text x="8" y="63"><tspan x="8" dy="14.6">+ __construct()</tspan><tspan x="8" dy="14.6">+ storeCoreProperties()</tspan><tspan x="8" dy="14.6">+ getOwner()</tspan><tspan x="8" dy="14.6">+ withOwner()</tspan><tspan x="8" dy="14.6">+ getImportId()</tspan><tspan x="8" dy="14.6">+ withImportId()</tspan><tspan x="8" dy="14.6">+ getPropertyTitleAndDescription()</tspan><tspan x="8" dy="14.6">+ withPropertyTitleAndDescription()</tspan><tspan x="8" dy="14.6">+ storePropertyTitleAndDescription()</tspan><tspan x="8" dy="14.6">+ getPropertyIsOnline()</tspan><tspan x="8" dy="14.6">and 16 more...</tspan><tspan x="8" dy="14.6">- updateMetadataForTitleAnd</tspan><tspan x="8" dy="14.6">Description()</tspan></text></g>
<g id="Aggregator" transform="translate(4203,2094)"><rect class="b" width="193" height="115.8"/><line class="s" x1="0" y1="40" x2="193" y2="40"/><line class="s" x1="0" y1="62" x2="193" y2="62"/><text class="t" x="96.5" y="16">ILIAS\ILIASObject\Properties<tspan x="96.5" dy="14.6">\Aggregator</tspan></text><text x="8" y="63"><tspan x="8" dy="14.6">+ __construct()</tspan><tspan x="8" dy="14.6">+ getFor()</tspan><tspan x="8" dy="14.6">+ preload()</tspan></text></g>
<g id="ilObject" transform="translate(3143,2382)"><rect class="b" width="226" height="627.4"/><line class="s" x1="0" y1="26" x2="226" y2="26"/><line class="s" x1="0" y1="48" x2="226" y2="48"/><text class="t" x="113" y="17.5">ilObject</text><text x="8" y="49"><tspan x="8" dy="14.6">+ getObjectProperties()</tspan><tspan x="8" dy="14.6">+ flushObjectProperties()</tspan><tspan x="8" dy="14.6">+ withReferences()</tspan><tspan x="8" dy="14.6">+ processAutoRating()</tspan><tspan x="8" dy="14.6">+ read()</tspan><tspan x="8" dy="14.6">+ getId()</tspan><tspan x="8" dy="14.6">+ setId()</tspan><tspan x="8" dy="14.6">+ setRefId()</tspan><tspan x="8" dy="14.6">+ getRefId()</tspan><tspan x="8" dy="14.6">+ getType()</tspan><tspan x="8" dy="14.6">and 40 more...</tspan><tspan x="8" dy="14.6">+ _lookupObjIdByImportId()</tspan><tspan x="8" dy="14.6">+ _lookupImportId()</tspan><tspan x="8" dy="14.6">+ _lookupOwnerName()</tspan><tspan x="8" dy="14.6">+ _getIdForImportId()</tspan><tspan x="8" dy="14.6">+ _getAllReferences()</tspan><tspan x="8" dy="14.6">+ _lookupTitle()</tspan><tspan x="8" dy="14.6">+ lookupOfflineStatus()</tspan><tspan x="8" dy="14.6">+ _lookupOwner()</tspan><tspan x="8" dy="14.6">+ _getIdsForTitle()</tspan><tspan x="8" dy="14.6">+ _lookupDescription()</tspan><tspan x="8" dy="14.6">and 27 more...</tspan><tspan x="8" dy="14.6"># doMDUpdateListener()</tspan><tspan x="8" dy="14.6"># beforeMDUpdateListener()</tspan><tspan x="8" dy="14.6"># doCreateMetaData()</tspan><tspan x="8" dy="14.6"># beforeCreateMetaData()</tspan><tspan x="8" dy="14.6"># doUpdateMetaData()</tspan><tspan x="8" dy="14.6"># beforeUpdateMetaData()</tspan><tspan x="8" dy="14.6"># doDeleteMetaData()</tspan><tspan x="8" dy="14.6"># beforeDeleteMetaData()</tspan><tspan x="8" dy="14.6"># handleAutoRating()</tspan><tspan x="8" dy="14.6"># hasAutoRating()</tspan><tspan x="8" dy="14.6">- appendCopyInfoToTranslations()</tspan><tspan x="8" dy="14.6">- getCallbackForTitlesPerLanguage</tspan><tspan x="8" dy="14.6">Transformation()</tspan><tspan x="8" dy="14.6">- appendNumberOfCopiesToTitle()</tspan><tspan x="8" dy="14.6">- isTitleUnique()</tspan><tspan x="8" dy="14.6">- buildTitleWithoutCopySuffix()</tspan></text></g>
<g id="ilObjUser" transform="translate(3156,3066)"><rect class="b" width="202" height="720.2"/><line class="s" x1="0" y1="26" x2="202" y2="26"/><line class="s" x1="0" y1="337.6" x2="202" y2="337.6"/><text class="t" x="101" y="17.5">ilObjUser</text><text x="8" y="28"><tspan x="8" dy="13.8">+ $login</tspan><tspan x="8" dy="13.8">+ $gender</tspan><tspan x="8" dy="13.8">+ $utitle</tspan><tspan x="8" dy="13.8">+ $firstname</tspan><tspan x="8" dy="13.8">+ $lastname</tspan><tspan x="8" dy="13.8">+ $fullname</tspan><tspan x="8" dy="13.8">+ $department</tspan><tspan x="8" dy="13.8">+ $street</tspan><tspan x="8" dy="13.8">+ $city</tspan><tspan x="8" dy="13.8">+ $country</tspan><tspan x="8" dy="13.8">and 12 more...</tspan><tspan x="8" dy="13.8"># $time_limit_message</tspan><tspan x="8" dy="13.8"># $last_login</tspan><tspan x="8" dy="13.8"># $passwd</tspan><tspan x="8" dy="13.8"># $password_encoding_type</tspan><tspan x="8" dy="13.8"># $password_salt</tspan><tspan x="8" dy="13.8"># $birthday</tspan><tspan x="8" dy="13.8"># $second_email</tspan><tspan x="8" dy="13.8"># $inactivation_date</tspan><tspan x="8" dy="13.8"># $org_units</tspan><tspan x="8" dy="13.8"># $last_profile_prompt</tspan><tspan x="8" dy="13.8"># $avatar_rid</tspan></text><text x="8" y="339.6"><tspan x="8" dy="13.8">+ __construct()</tspan><tspan x="8" dy="13.8">+ read()</tspan><tspan x="8" dy="13.8">+ getPasswordEncodingType()</tspan><tspan x="8" dy="13.8">+ setPasswordEncodingType()</tspan><tspan x="8" dy="13.8">+ getPasswordSalt()</tspan><tspan x="8" dy="13.8">+ setPasswordSalt()</tspan><tspan x="8" dy="13.8">+ assignData()</tspan><tspan x="8" dy="13.8">+ saveAsNew()</tspan><tspan x="8" dy="13.8">+ update()</tspan><tspan x="8" dy="13.8">+ writeAccepted()</tspan><tspan x="8" dy="13.8">and 169 more...</tspan><tspan x="8" dy="13.8">+ _lookupFullname()</tspan><tspan x="8" dy="13.8">+ _lookupEmail()</tspan><tspan x="8" dy="13.8">+ _lookupGender()</tspan><tspan x="8" dy="13.8">+ _lookupClientIP()</tspan><tspan x="8" dy="13.8">+ _lookupName()</tspan><tspan x="8" dy="13.8">+ _lookupFields()</tspan><tspan x="8" dy="13.8">+ _lookupLogin()</tspan><tspan x="8" dy="13.8">+ _lookupExternalAccount()</tspan><tspan x="8" dy="13.8">+ _lookupId()</tspan><tspan x="8" dy="13.8">+ _lookupLastLogin()</tspan><tspan x="8" dy="13.8">and 62 more...</tspan><tspan x="8" dy="13.8"># buildTextFromArray()</tspan><tspan x="8" dy="13.8"># readMultiTextFields()</tspan><tspan x="8" dy="13.8"># deleteMultiTextFields()</tspan><tspan x="8" dy="13.8">- _lookup()</tspan><tspan x="8" dy="13.8">- getLoginFromAuth()</tspan></text></g>
<g id="ilRoleXmlImporter" class="imp2" transform="translate(1626,3336)"><rect class="imp" width="157" height="224"/><line class="s" x1="0" y1="25" x2="157" y2="25"/><line class="s" x1="0" y1="51" x2="157" y2="51"/><text class="t" x="78.5" y="17.5">ilRoleXmlImporter</text><text x="10" y="52"><tspan x="10" dy="15">+ __construct()</tspan><tspan x="10" dy="15">+ setXml()</tspan><tspan x="10" dy="15">+ getXml()</tspan><tspan x="10" dy="15">+ getRoleFolderId()</tspan><tspan x="10" dy="15">+ getRole()</tspan><tspan x="10" dy="15">+ setRole()</tspan><tspan x="10" dy="15">+ import()</tspan><tspan x="10" dy="15">+ importSimpleXml()</tspan><tspan x="10" dy="15"># assignToRoleFolder()</tspan><tspan x="10" dy="15"># initRole()</tspan><tspan x="10" dy="15"># parseXmlErrors()</tspan></text></g>
</svg>
